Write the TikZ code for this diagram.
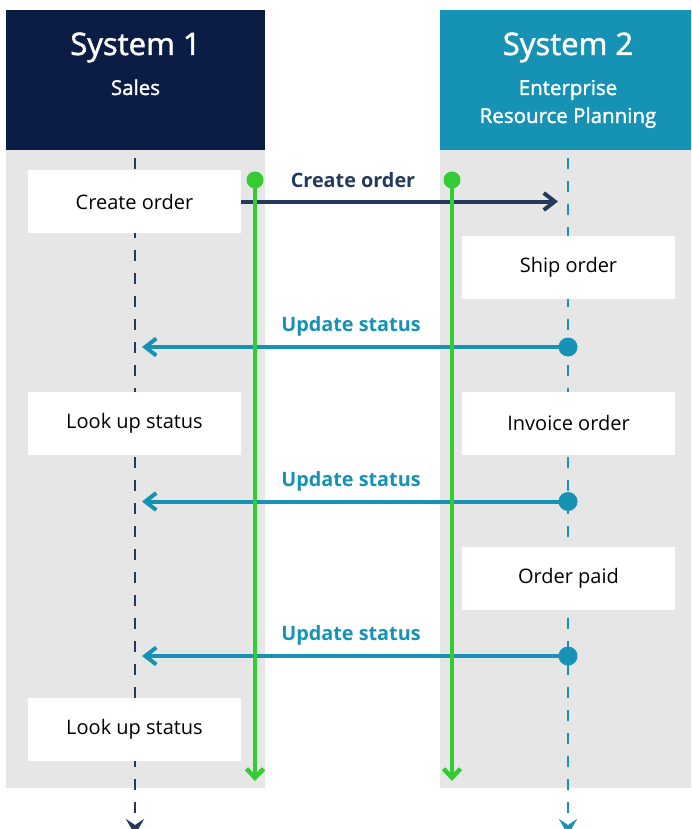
\documentclass[tikz,border=0pt]{standalone}
\usepackage{fontspec}
\setmainfont{Open Sans}
\newfontfamily\semifont{Open Sans}[FakeBold=1.6]
\usetikzlibrary{arrows.meta}

\definecolor{salesnavy}{HTML}{0B1C45}
\definecolor{msgnavy}{HTML}{233A5E}
\definecolor{erpteal}{HTML}{1592B4}
\definecolor{flowgreen}{HTML}{33CC33}
\definecolor{lanegray}{HTML}{E6E6E6}

\begin{document}
\begin{tikzpicture}[
    x=1pt, y=-1pt,
    header/.style={anchor=north west, minimum height=140pt, inner sep=0pt},
    title/.style={anchor=base, text=white, font=\semifont\fontsize{31}{36}\selectfont},
    subtitle/.style={anchor=base, text=white, align=center,
                     font=\semifont\fontsize{20.5}{28}\selectfont},
    stepbox/.style={fill=white, minimum width=213pt, minimum height=63pt,
                    inner sep=0pt, font=\fontsize{20}{24}\selectfont},
    lifeline/.style={line width=2.5pt, dash pattern=on 11pt off 12pt,
                     -{Stealth[length=16pt, width=18pt, inset=6pt]}},
    msg/.style={line width=4pt, -{Straight Barb[length=11pt, width=17pt]}},
    msglabel/.style={anchor=base, font=\fontsize{19.8}{22}\selectfont\bfseries},
    flow/.style={flowgreen, line width=4.5pt,
                 -{Straight Barb[length=9pt, width=17pt]}},
]
\clip (0,0) rectangle (691,829);

% lanes
\fill[lanegray] (6,150) rectangle (265,788);
\fill[lanegray] (440,150) rectangle (691,788);

% headers
\node[header, fill=salesnavy, minimum width=259pt] (sys1) at (6,10) {};
\node[header, fill=erpteal, minimum width=257pt] (sys2) at (440,10) {};
\node[title] (sys1title) at (135.5,55) {System 1};
\node[subtitle] (sys1sub) at (135.5,95) {Sales};
\node[title] (sys2title) at (568,55) {System 2};
\node[subtitle] (sys2sub) at (568,123) {Enterprise\\Resource Planning};

% lifelines
\coordinate (salestop) at (135,158);
\coordinate (salesbot) at (135,835);
\coordinate (erptop) at (568,158);
\coordinate (erpbot) at (568,835);
\draw[lifeline, msgnavy] (salestop) -- (salesbot);
\draw[lifeline, erpteal] (erptop) -- (erpbot);

% steps, sales
\node[stepbox] (create) at (134.5,201.5) {Create order};
\node[stepbox] (lookup1) at (134.5,423) {Look up status};
\node[stepbox] (lookup2) at (134.5,729.5) {Look up status};

% steps, erp
\node[stepbox] (ship) at (568.5,267.5) {Ship order};
\node[stepbox] (invoice) at (568.5,423) {Invoice order};
\node[stepbox] (paid) at (568.5,578.5) {Order paid};

% messages
\draw[msg, msgnavy, shorten >=10pt] (create.east) -- (create.east -| erptop);
\node[msglabel, text=msgnavy] (createlbl) at (353,187.5) {Create order};

\foreach \i/\y in {1/347, 2/501.5, 3/656} {
  \coordinate (upd\i) at (568,\y);
  \draw[msg, erpteal, shorten >=7pt] (upd\i) -- (upd\i -| salestop);
  \fill[erpteal] (upd\i) circle (9.5pt);
  \node[msglabel, text=erpteal] (updlbl\i) at (351,\y-15.5) {Update status};
}

% green flows
\foreach \i/\x in {1/255, 2/452} {
  \coordinate (flowtop\i) at (\x,180);
  \coordinate (flowbot\i) at (\x,781);
  \draw[flow] (flowtop\i) -- (flowbot\i);
  \fill[flowgreen] (flowtop\i) circle (8.5pt);
}

\end{tikzpicture}
\end{document}
